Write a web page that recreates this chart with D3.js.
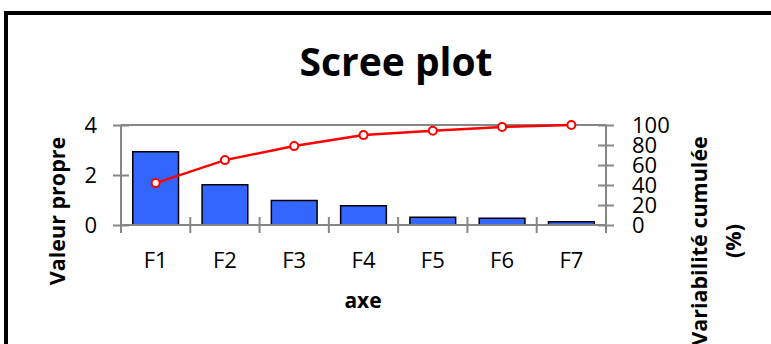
<!DOCTYPE html>
<html>
<head>
<meta charset="utf-8">
<script src="https://cdn.jsdelivr.net/npm/d3@7"></script>
<style>
  html, body { margin: 0; padding: 0; background: #fff; }
  svg { display: block; font-family: "Open Sans", sans-serif; }
</style>
</head>
<body>
<svg id="chart" width="771" height="344"></svg>
<script>
// Principal axes, eigenvalues and cumulative variability (%)
const axes = ["F1", "F2", "F3", "F4", "F5", "F6", "F7"];
const eigenvalues = [2.93, 1.61, 0.98, 0.77, 0.31, 0.27, 0.13];
const cumulative = [41.9, 64.9, 78.9, 89.9, 94.3, 98.1, 100];
const leftTicks = [0, 2, 4];
const rightTicks = [0, 20, 40, 60, 80, 100];

const svg = d3.select("#chart");
const margin = { left: 121, right: 606, top: 125, bottom: 225 };
const axisColor = "#868686";

// Outer frame
svg.append("rect")
  .attr("x", 6).attr("y", 13)
  .attr("width", 800).attr("height", 400)
  .attr("fill", "none").attr("stroke", "#000").attr("stroke-width", 4);

const x = d3.scaleBand().domain(axes).range([margin.left, margin.right]).paddingInner(0).paddingOuter(0);
const yL = d3.scaleLinear().domain([0, 4]).range([margin.bottom, margin.top]);
const yR = d3.scaleLinear().domain([0, 100]).range([margin.bottom, margin.top]);

// Title
svg.append("text")
  .attr("x", 396).attr("y", 76)
  .attr("text-anchor", "middle")
  .attr("font-size", 39).attr("font-weight", "bold")
  .text("Scree plot");

// Top border of plot area
svg.append("line")
  .attr("x1", margin.left).attr("x2", margin.right)
  .attr("y1", yL(4)).attr("y2", yL(4))
  .attr("stroke", axisColor).attr("stroke-width", 2);

// Bars
const barW = x.bandwidth() * 0.66;
svg.append("g").selectAll("rect")
  .data(axes)
  .join("rect")
  .attr("x", (d) => x(d) + (x.bandwidth() - barW) / 2)
  .attr("y", (d, i) => yL(eigenvalues[i]))
  .attr("width", barW)
  .attr("height", (d, i) => yL(0) - yL(eigenvalues[i]))
  .attr("fill", "#3366ff")
  .attr("stroke", "#000").attr("stroke-width", 1.5);

// Axes
function styleAxis(g) {
  g.select(".domain").attr("stroke", axisColor).attr("stroke-width", 2);
  g.selectAll(".tick line").attr("stroke", axisColor).attr("stroke-width", 2);
  g.selectAll(".tick text").attr("fill", "#000").attr("font-size", 22)
    .attr("font-family", "'Open Sans', sans-serif");
}

// Category axis with crossing tick marks at band boundaries
const xAxisG = svg.append("g").attr("transform", `translate(0,${yL(0)})`);
xAxisG.append("line")
  .attr("x1", margin.left).attr("x2", margin.right)
  .attr("stroke", axisColor).attr("stroke-width", 2);
const bounds = axes.map((d) => x(d)).concat([margin.right]);
xAxisG.selectAll("line.tk")
  .data(bounds)
  .join("line").attr("class", "tk")
  .attr("x1", (d) => d).attr("x2", (d) => d)
  .attr("y1", -8).attr("y2", 8)
  .attr("stroke", axisColor).attr("stroke-width", 2);
xAxisG.selectAll("text")
  .data(axes)
  .join("text")
  .attr("x", (d) => x(d) + x.bandwidth() / 2)
  .attr("y", 43)
  .attr("text-anchor", "middle")
  .attr("font-size", 22)
  .text((d) => d);

const leftAxis = svg.append("g")
  .attr("transform", `translate(${margin.left},0)`)
  .call(d3.axisLeft(yL).tickValues(leftTicks).tickFormat(d3.format("d"))
    .tickSizeInner(8).tickSizeOuter(0).tickPadding(16))
  .call(styleAxis);
leftAxis.selectAll(".tick line").attr("x2", 8).attr("x1", -8);
leftAxis.select(".domain").attr("d", `M0,${margin.top}V${margin.bottom + 8}`);

const rightAxis = svg.append("g")
  .attr("transform", `translate(${margin.right},0)`)
  .call(d3.axisRight(yR).tickValues(rightTicks).tickFormat(d3.format("d"))
    .tickSizeInner(8).tickSizeOuter(0).tickPadding(18))
  .call(styleAxis);
rightAxis.selectAll(".tick line").attr("x1", -8).attr("x2", 8);
rightAxis.select(".domain").attr("d", `M0,${margin.top}V${margin.bottom + 8}`);

// Cumulative variability line
const line = d3.line()
  .x((d, i) => x(axes[i]) + x.bandwidth() / 2)
  .y((d) => yR(d));
svg.append("path")
  .datum(cumulative)
  .attr("d", line)
  .attr("fill", "none").attr("stroke", "#ff0000").attr("stroke-width", 2.5);
svg.append("g").selectAll("circle")
  .data(cumulative)
  .join("circle")
  .attr("cx", (d, i) => x(axes[i]) + x.bandwidth() / 2)
  .attr("cy", (d) => yR(d))
  .attr("r", 4)
  .attr("fill", "#fff").attr("stroke", "#ff0000").attr("stroke-width", 2);

// Axis titles
svg.append("text")
  .attr("transform", "translate(59,211) rotate(-90)")
  .attr("text-anchor", "middle").attr("dominant-baseline", "middle")
  .attr("font-size", 21.5).attr("font-weight", "bold")
  .text("Valeur propre");

svg.append("text")
  .attr("x", 363).attr("y", 302)
  .attr("text-anchor", "middle").attr("dominant-baseline", "middle")
  .attr("font-size", 21).attr("font-weight", "bold")
  .text("axe");

const rTitle = svg.append("text")
  .attr("transform", "translate(699,241) rotate(-90)")
  .attr("text-anchor", "middle")
  .attr("font-size", 21.5).attr("font-weight", "bold");
rTitle.append("tspan").attr("x", 0).attr("dy", "0.35em").text("Variabilité cumulée");
rTitle.append("tspan").attr("x", 0).attr("dy", "1.6em").text("(%)");
</script>
</body>
</html>
